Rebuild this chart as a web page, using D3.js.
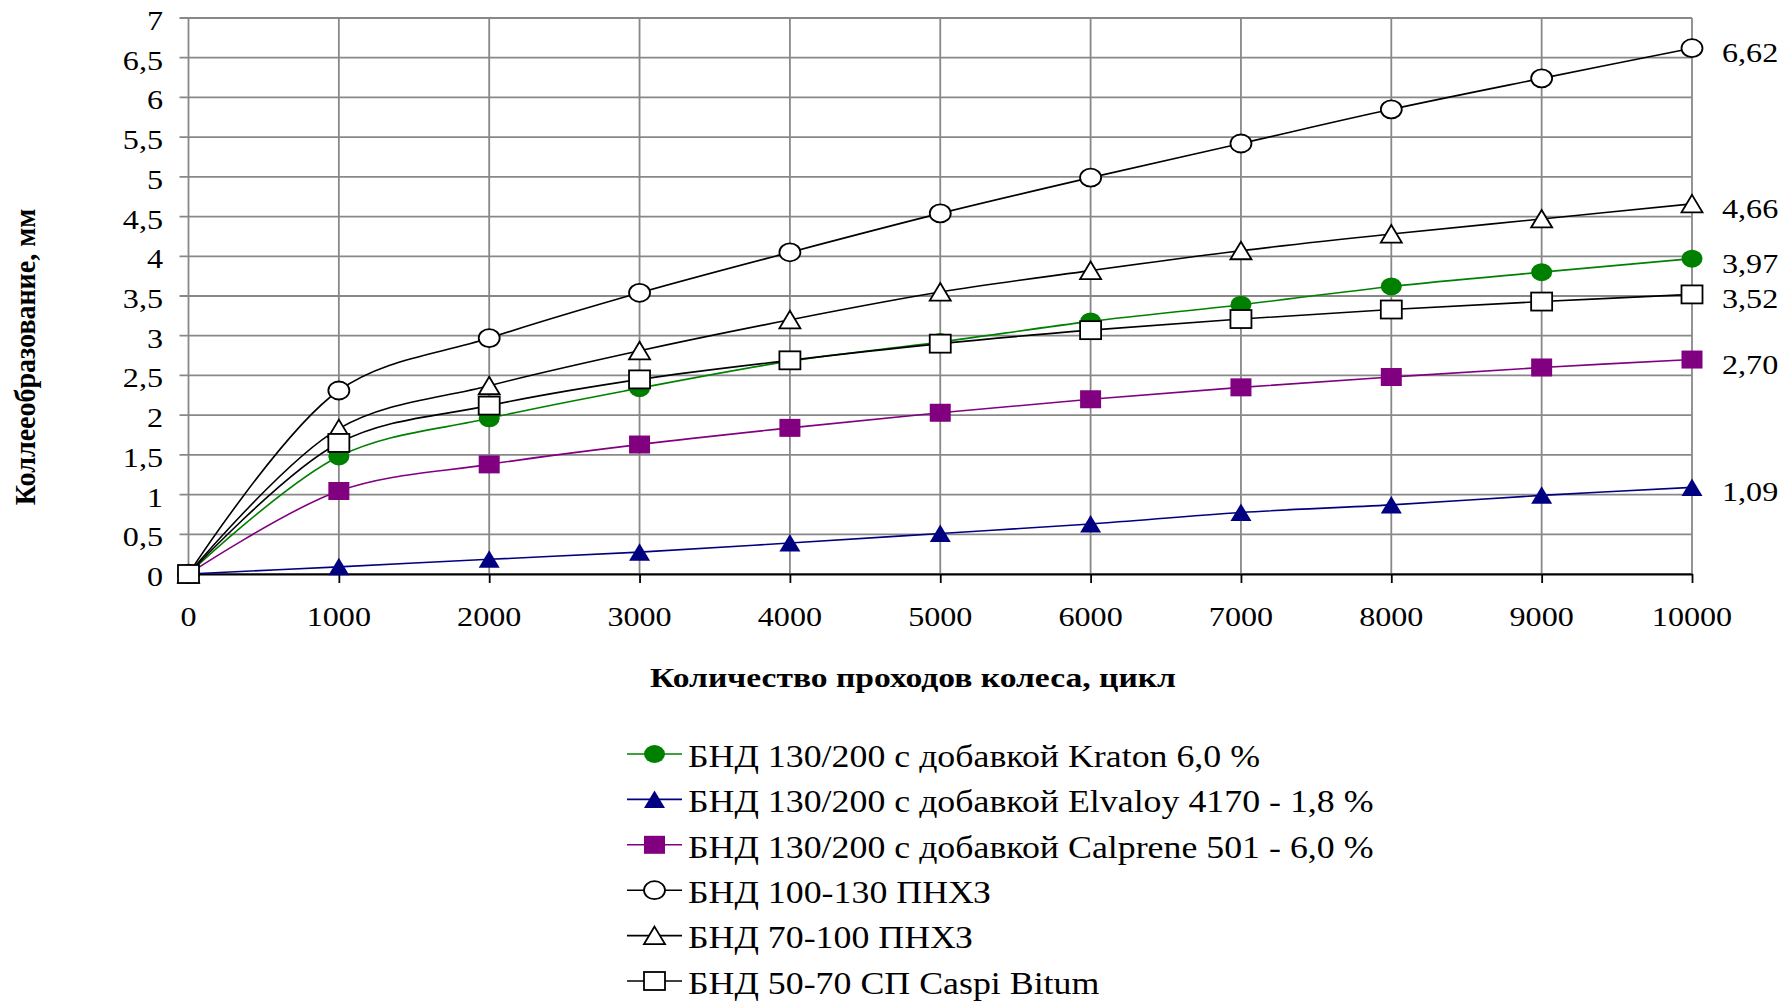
<!DOCTYPE html>
<html><head><meta charset="utf-8">
<script src="https://cdn.jsdelivr.net/npm/d3@7"></script>
<style>
html,body{margin:0;padding:0;background:#fff;}
svg{display:block;font-family:"Liberation Serif","Times New Roman",serif;}
</style>
</head><body>
<svg id="chart" width="1785" height="1003"></svg>
<script>
// ---- data ----
const passes = [0,1000,2000,3000,4000,5000,6000,7000,8000,9000,10000];
const kraton   = [0,1.48,1.96,2.34,2.68,2.92,3.18,3.39,3.62,3.80,3.97];
const elvaloy  = [0,0.09,0.185,0.275,0.39,0.51,0.63,0.775,0.87,0.99,1.09];
const calprene = [0,1.045,1.38,1.63,1.84,2.03,2.20,2.35,2.48,2.60,2.70];
const pnhz100  = [0,2.31,2.97,3.54,4.05,4.54,4.99,5.42,5.85,6.24,6.62];
const pnhz70   = [0,1.83,2.37,2.81,3.20,3.55,3.82,4.07,4.28,4.47,4.66];
const caspi    = [0,1.65,2.12,2.45,2.69,2.90,3.07,3.21,3.33,3.43,3.52];
const seriesNames = [
  "БНД 130/200 с добавкой Kraton 6,0 %",
  "БНД 130/200 с добавкой Elvaloy 4170 - 1,8 %",
  "БНД 130/200 с добавкой Calprene 501 - 6,0 %",
  "БНД 100-130 ПНХЗ",
  "БНД 70-100 ПНХЗ",
  "БНД 50-70 СП Caspi Bitum"
];
const seriesValues = [kraton, elvaloy, calprene, pnhz100, pnhz70, caspi];
const xTicks = [0,1000,2000,3000,4000,5000,6000,7000,8000,9000,10000];
const yTicks = [0,0.5,1,1.5,2,2.5,3,3.5,4,4.5,5,5.5,6,6.5,7];
const xTitle = "Количество проходов колеса, цикл";
const yTitle = "Коллееобразование, мм";

// ---- styles ----
const styles = [
  {color:"#008000", shape:"circle",   filled:true},
  {color:"#000080", shape:"triangle", filled:true},
  {color:"#800080", shape:"square",   filled:true},
  {color:"#000000", shape:"circle",   filled:false},
  {color:"#000000", shape:"triangle", filled:false},
  {color:"#000000", shape:"square",   filled:false}
];

const svg = d3.select("#chart");
const x = d3.scaleLinear().domain([0,10000]).range([188.5,1692]);
const y = d3.scaleLinear().domain([0,7]).range([574,18]);
const fmt = v => String(v).replace(".", ",");
const fmt2 = v => v.toFixed(2).replace(".", ",");
const GRID = "#888888";

// grid
const grid = svg.append("g");
grid.selectAll(".hg").data(yTicks).join("line")
  .attr("x1", x(0)-9).attr("x2", x(10000))
  .attr("y1", d=>y(d)).attr("y2", d=>y(d))
  .attr("stroke", GRID).attr("stroke-width", 1.8);
grid.selectAll(".vg").data(xTicks).join("line")
  .attr("x1", d=>x(d)).attr("x2", d=>x(d))
  .attr("y1", y(7)).attr("y2", y(0))
  .attr("stroke", GRID).attr("stroke-width", 1.8);

// x axis (black)
const xAxis = svg.append("g").attr("transform", `translate(0,${y(0)})`)
  .call(d3.axisBottom(x).tickValues(xTicks).tickSize(9).tickSizeOuter(0).tickFormat(()=>""));
xAxis.select(".domain").attr("stroke","#000").attr("stroke-width",1.8);
xAxis.selectAll(".tick line").attr("stroke","#000").attr("stroke-width",1.8);

// stretched text helper
function sText(parent, tx, ty, str, opts) {
  const g = parent.append("g").attr("transform", `translate(${tx},${ty}) scale(${opts.sx||1},1)`);
  return g.append("text").attr("x",0).attr("y",0)
    .attr("text-anchor", opts.anchor||"start")
    .attr("font-size", opts.size)
    .attr("font-weight", opts.weight||"normal")
    .attr("fill","#000")
    .text(str);
}

// tick labels
const labels = svg.append("g");
xTicks.forEach(t => sText(labels, x(t), 626, String(t), {size:27, sx:1.19, anchor:"middle"}));
yTicks.forEach(t => sText(labels, 163, y(t)+12, fmt(t), {size:27, sx:1.19, anchor:"end"}));

// axis titles
sText(svg, 913, 687, xTitle, {size:28, sx:1.2, anchor:"middle", weight:"bold"});
svg.append("text")
  .attr("transform", `translate(35,357) scale(1.08,1) rotate(-90)`)
  .attr("text-anchor","middle").attr("font-size",28).attr("font-weight","bold")
  .text(yTitle);

// markers
function marker(parent, shape, cx, cy, st) {
  const fill = st.filled ? st.color : "#fff";
  const stroke = st.filled ? "none" : st.color;
  let m;
  if (shape === "circle") {
    m = parent.append("ellipse").attr("cx",cx).attr("cy",cy).attr("rx",10.5).attr("ry",9);
  } else if (shape === "square") {
    m = parent.append("rect").attr("x",cx-10.5).attr("y",cy-9).attr("width",21).attr("height",18);
  } else {
    m = parent.append("path").attr("d", `M${cx},${cy-9}L${cx+10.5},${cy+8.5}L${cx-10.5},${cy+8.5}Z`);
  }
  m.attr("fill", fill).attr("stroke", stroke).attr("stroke-width", 1.8).attr("stroke-linejoin","miter");
}

const line = d3.line().x(d=>x(d[0])).y(d=>y(d[1])).curve(d3.curveCatmullRom.alpha(0.5));
const plot = svg.append("g");
seriesValues.forEach((vals, i) => {
  const st = styles[i];
  const pts = passes.map((p,k)=>[p, vals[k]]);
  const g = plot.append("g");
  g.append("path").attr("d", line(pts)).attr("fill","none")
    .attr("stroke", st.color).attr("stroke-width", 1.6);
  pts.forEach(p => marker(g, st.shape, x(p[0]), y(p[1]), st));
});

// end labels
seriesValues.forEach(vals => {
  const last = vals[vals.length-1];
  sText(svg, x(10000)+30, y(last)+14, fmt2(last), {size:27, sx:1.19, anchor:"start"});
});

// legend
const legend = svg.append("g");
seriesNames.forEach((name, i) => {
  const st = styles[i];
  const cy = 754 + i*45.4;
  legend.append("line").attr("x1",627).attr("x2",682).attr("y1",cy).attr("y2",cy)
    .attr("stroke", st.color).attr("stroke-width",1.6);
  marker(legend, st.shape, 654.5, cy, st);
  sText(legend, 688, cy+12.8, name, {size:32, sx:1.12, anchor:"start"});
});
</script>
</body></html>
